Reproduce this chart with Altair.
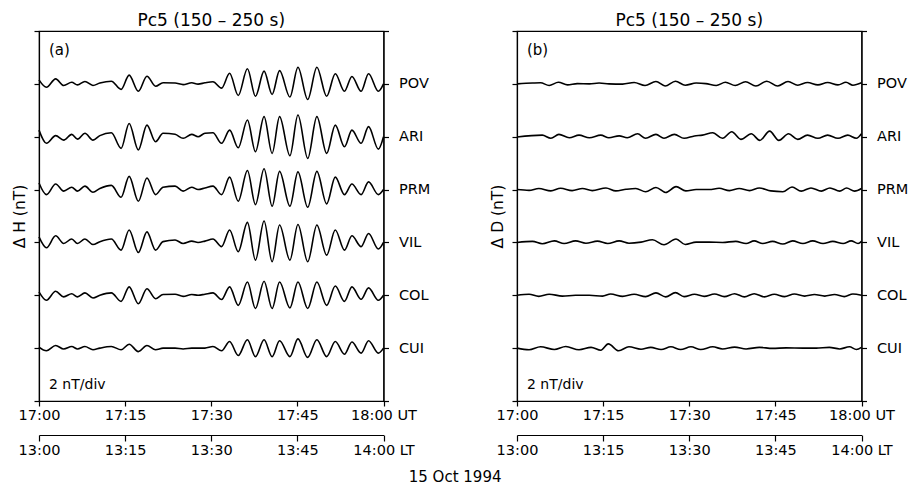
import altair as alt
import pandas as pd

STATIONS = ["POV", "ARI", "PRM", "VIL", "COL", "CUI"]
OFFSETS = [6, 5, 4, 3, 2, 1]
NT_PER_DIV = 2
Y_TICKS = [0, 1, 2, 3, 4, 5, 6, 7]
UT_TICKS = [0, 15, 30, 45, 60]
UT_LABELS = ["17:00", "17:15", "17:30", "17:45", "18:00 UT"]
LT_LABELS = ["13:00", "13:15", "13:30", "13:45", "14:00 LT"]

# ---- panel (a): Delta H, extrema times (minutes after 17:00 UT), values in nT
T_A = [0, 1.3, 2.9, 4.3, 5.7, 6.7, 8.0, 9.4, 10.6, 12.6, 14.3, 15.7, 17.3, 18.8, 20.3, 21.6,
       23.7, 25.1, 26.6, 27.7, 28.9, 30.3, 31.8, 33.2, 34.7, 36.3, 37.7, 39.2, 40.6, 41.9,
       43.7, 45.1, 46.8, 48.4, 50.1, 51.6, 53.2, 54.5, 56.1, 57.4, 59.1, 60]
H_POV = [0.15, -0.13, 0.19, -0.06, 0.06, -0.04, 0.09, -0.06, 0.03, 0.10, -0.21, 0.33, -0.28, 0.29,
         -0.09, 0.04, 0.03, -0.03, 0.04, -0.01, 0.04, 0.08, -0.16, 0.40, -0.44, 0.57, -0.47, 0.48,
         -0.40, 0.50, -0.50, 0.63, -0.59, 0.63, -0.47, 0.38, -0.28, 0.28, -0.28, 0.38, -0.28, 0.0]
H_ARI = [0.25, -0.25, 0.04, -0.13, 0.09, -0.09, 0.13, -0.13, 0.04, 0.15, -0.44, 0.50, -0.50, 0.44,
         -0.19, 0.13, 0.09, -0.06, 0.09, 0.0, 0.13, 0.15, -0.25, 0.25, -0.42, 0.63, -0.57, 0.76,
         -0.63, 0.76, -0.72, 0.82, -0.82, 0.76, -0.63, 0.44, -0.38, 0.25, -0.25, 0.38, -0.47, 0.0]
H_PRM = [0.25, -0.19, 0.21, -0.06, 0.09, -0.06, 0.13, -0.10, 0.04, 0.16, -0.29, 0.50, -0.44, 0.44,
         -0.19, 0.09, 0.13, -0.06, 0.09, 0.0, 0.06, 0.13, -0.19, 0.47, -0.44, 0.72, -0.57, 0.79,
         -0.63, 0.69, -0.63, 0.67, -0.67, 0.69, -0.54, 0.47, -0.19, 0.21, -0.19, 0.29, -0.19, 0.0]
H_VIL = [0.21, -0.20, 0.25, -0.04, 0.13, -0.04, 0.13, -0.08, 0.03, 0.13, -0.29, 0.47, -0.38, 0.40,
         -0.29, 0.03, 0.09, -0.04, 0.05, 0.0, 0.05, 0.13, -0.16, 0.47, -0.35, 0.76, -0.67, 0.81,
         -0.73, 0.66, -0.67, 0.68, -0.73, 0.66, -0.48, 0.47, -0.29, 0.25, -0.16, 0.34, -0.25, 0.0]
H_COL = [0.13, -0.19, 0.15, -0.06, 0.06, -0.06, 0.09, -0.10, 0.0, 0.09, -0.23, 0.32, -0.32, 0.25,
         -0.13, 0.03, 0.04, -0.04, 0.03, 0.0, 0.04, 0.09, -0.16, 0.32, -0.38, 0.50, -0.50, 0.53,
         -0.50, 0.50, -0.48, 0.50, -0.50, 0.50, -0.38, 0.35, -0.23, 0.32, -0.15, 0.28, -0.19, 0.0]
H_CUI = [0.04, -0.10, 0.10, -0.03, 0.06, -0.03, 0.06, -0.06, 0.0, 0.06, -0.06, 0.15, -0.13, 0.10,
         -0.06, 0.0, 0.0, -0.03, 0.0, 0.0, 0.0, 0.06, -0.10, 0.25, -0.28, 0.32, -0.32, 0.32,
         -0.32, 0.28, -0.32, 0.35, -0.35, 0.32, -0.32, 0.25, -0.23, 0.23, -0.19, 0.28, -0.19, 0.0]

# ---- panel (b): Delta D, extrema times and values (nT) per station
D_POV_T = [0, 2.7, 4.1, 5.6, 7.2, 8.8, 10.5, 12.6, 14.3, 16.0, 18.4, 20.4, 22.3, 24.2, 25.8, 27.6,
           29.3, 31.2, 32.9, 34.7, 36.3, 38.0, 39.8, 41.6, 43.5, 45.4, 47.2, 48.9, 50.6, 52.4,
           54.1, 55.9, 57.3, 58.5, 60]
D_POV = [0, 0.03, 0.04, -0.06, 0.06, -0.04, 0.01, 0, 0.03, 0, -0.01, 0.05, -0.06, 0.09, -0.08,
         0.10, -0.05, 0.03, 0.01, -0.06, 0.06, -0.06, 0.08, -0.08, 0.10, -0.08, 0.09, -0.05, 0.05,
         -0.04, 0.05, -0.04, 0.06, -0.05, 0.04]
D_ARI_T = [0, 4.4, 5.9, 7.3, 9.1, 10.8, 12.6, 14.6, 16.0, 17.8, 19.2, 21.0, 22.4, 24.2, 25.6,
           27.4, 29.1, 30.9, 32.3, 34.1, 35.8, 37.4, 39.0, 40.8, 42.3, 44.0, 45.6, 47.3, 48.9,
           50.6, 52.4, 54.1, 55.9, 57.6, 59.1, 60]
D_ARI = [-0.01, 0.06, -0.06, 0.09, -0.04, 0.06, -0.04, 0.06, -0.04, 0.03, -0.04, 0.11, -0.06,
         0.09, -0.06, 0.09, -0.06, 0.03, 0.06, 0.15, -0.06, 0.19, -0.10, 0.11, -0.14, 0.21, -0.14,
         0.11, -0.10, 0.06, -0.06, 0.06, -0.06, 0.06, -0.06, 0.11]
D_PRM_T = [0, 2.1, 3.8, 5.9, 7.6, 9.6, 11.4, 13.1, 15.5, 17.2, 19.0, 20.7, 22.4, 24.2, 25.9,
           27.7, 29.4, 31.2, 33.5, 35.2, 37.0, 38.7, 40.5, 42.2, 44.2, 46.3, 47.9, 49.5, 51.2,
           53.0, 54.5, 56.2, 57.4, 58.8, 60]
D_PRM = [0, -0.03, 0.04, -0.05, 0.05, -0.04, 0.04, -0.04, 0.06, -0.05, 0.01, 0.04, -0.08, 0.08,
         -0.11, 0.11, -0.05, 0, 0, 0.05, -0.04, 0.04, -0.04, 0.06, -0.05, -0.08, 0.10, -0.06,
         0.06, -0.06, 0.06, -0.06, 0.06, -0.06, 0.04]
D_VIL_T = [0, 2.7, 4.4, 6.5, 8.2, 10.2, 12.0, 14.0, 15.8, 17.8, 19.5, 21.6, 23.6, 25.6, 27.7,
           29.3, 31.2, 33.5, 35.8, 38.1, 39.9, 41.3, 42.8, 44.5, 46.3, 48.0, 49.8, 51.5, 53.3,
           55.0, 56.8, 58.2, 59.4, 60]
D_VIL = [0, 0.04, -0.05, 0.06, -0.04, 0.06, -0.03, 0.05, -0.04, 0.06, -0.03, 0.01, 0.10, -0.09,
         0.13, -0.08, 0.01, 0.01, 0, 0.04, -0.04, 0.06, -0.04, 0.04, -0.06, 0.06, -0.04, 0.06,
         -0.04, 0.04, -0.04, 0.06, -0.04, 0.04]
D_COL_T = [0, 2.1, 3.8, 5.6, 7.9, 10.2, 12.6, 14.9, 16.3, 18.4, 20.4, 22.4, 24.2, 25.9, 27.6,
           29.1, 30.9, 32.6, 34.4, 36.1, 37.9, 39.6, 41.3, 43.1, 44.8, 46.6, 48.3, 50.1, 51.8,
           53.6, 55.3, 57.0, 58.5, 60]
D_COL = [0, 0.04, -0.04, 0.04, -0.03, 0, 0, -0.03, 0.05, -0.04, 0.04, -0.05, 0.09, -0.06, 0.10,
         -0.05, 0.04, -0.04, 0.05, -0.05, 0.06, -0.06, 0.06, -0.06, 0.04, -0.05, 0.05, -0.03,
         0.03, -0.03, 0.03, -0.05, 0.05, 0]
D_CUI_T = [0, 2.1, 4.1, 6.5, 8.5, 10.8, 12.9, 14.6, 15.9, 17.7, 19.5, 21.6, 23.3, 25.1, 26.8,
           28.5, 30.3, 32.0, 34.1, 35.8, 37.9, 39.9, 42.2, 44.5, 46.9, 49.8, 52.1, 54.4, 56.2,
           57.9, 59.1, 60]
D_CUI = [0, -0.06, 0.05, -0.05, 0.06, -0.06, 0.03, -0.08, 0.16, -0.10, 0.05, -0.04, 0.03, -0.05,
         0.05, -0.05, 0.05, -0.05, 0.05, -0.03, 0.04, -0.03, 0.03, -0.01, 0.01, 0, 0, 0.03, -0.03,
         0.05, -0.05, 0.03]

FONT = "DejaVu Sans"


def build(times_list, values_list):
    rows = []
    for s, o, ts, vs in zip(STATIONS, OFFSETS, times_list, values_list):
        for t, v in zip(ts, vs):
            rows.append({"station": s, "offset": o, "t": t, "v": v})
    return pd.DataFrame(rows)


df_a = build([T_A] * 6, [H_POV, H_ARI, H_PRM, H_VIL, H_COL, H_CUI])
df_b = build([D_POV_T, D_ARI_T, D_PRM_T, D_VIL_T, D_COL_T, D_CUI_T],
             [D_POV, D_ARI, D_PRM, D_VIL, D_COL, D_CUI])


def expr_from(values, labels):
    parts = [f"datum.value == {v} ? '{l}'" for v, l in zip(values, labels)]
    return " : ".join(parts) + " : ''"


ut_expr = expr_from(UT_TICKS, UT_LABELS)
lt_expr = expr_from(UT_TICKS, LT_LABELS)
st_expr = expr_from(OFFSETS, STATIONS)


def panel(df, ytitle, tag, title):
    xs = alt.Scale(domain=[0, 60], nice=False, zero=False)
    ys = alt.Scale(domain=[0, 7], nice=False, zero=False)
    base = alt.Chart(df).transform_calculate(yy=f"datum.offset + datum.v / {NT_PER_DIV}")
    lines = base.mark_line(color="black", strokeWidth=1.6, interpolate="monotone").encode(
        x=alt.X("t:Q", scale=xs,
                axis=alt.Axis(orient="bottom", values=UT_TICKS, labelExpr=ut_expr, title=None,
                              grid=False, tickSize=5, labelPadding=2, labelFlush=False,
                              labelOverlap=False)),
        y=alt.Y("yy:Q", scale=ys,
                axis=alt.Axis(orient="left", values=Y_TICKS, labels=False, title=ytitle,
                              grid=False, tickSize=5, titlePadding=6)),
        detail="station:N",
    )
    ghost = base.mark_point(opacity=0).encode(
        x=alt.X("t:Q", scale=xs,
                axis=alt.Axis(orient="bottom", offset=34, values=UT_TICKS, labelExpr=lt_expr,
                              title=None, grid=False, tickSize=6, labelPadding=2,
                              labelFlush=False, labelOverlap=False)),
        y=alt.Y("yy:Q", scale=ys,
                axis=alt.Axis(orient="right", values=Y_TICKS, labelExpr=st_expr, title=None,
                              grid=False, tickSize=5, labelPadding=10)),
    )
    tag_txt = alt.Chart(pd.DataFrame({"s": [tag]})).mark_text(
        align="left", baseline="middle", fontSize=15, font=FONT, color="black"
    ).encode(text="s:N", x=alt.value(10), y=alt.value(19))
    div_txt = alt.Chart(pd.DataFrame({"s": [f"{NT_PER_DIV} nT/div"]})).mark_text(
        align="left", baseline="middle", fontSize=14, font=FONT, color="black"
    ).encode(text="s:N", x=alt.value(10), y=alt.value(354))
    return alt.layer(lines, ghost, tag_txt, div_txt).resolve_axis(
        x="independent", y="independent"
    ).properties(
        width=344.5, height=370,
        title=alt.TitleParams(title, fontSize=17, font=FONT, fontWeight="normal",
                              anchor="middle", color="black", offset=0),
    )


pa = panel(df_a, "Δ H (nT)", "(a)", "Pc5 (150 – 250 s)")
pb = panel(df_b, "Δ D (nT)", "(b)", "Pc5 (150 – 250 s)")

chart = alt.hconcat(pa, pb, spacing=58).properties(
    title=alt.TitleParams("15 Oct 1994", orient="bottom", anchor="middle", fontSize=15,
                          font=FONT, fontWeight="normal", color="black", offset=13, dx=-5),
    padding={"left": 3, "top": 3, "right": 0, "bottom": 0},
).configure_view(stroke="black", strokeWidth=1.2).configure_axis(
    domainColor="black", tickColor="black", labelColor="black", titleColor="black",
    labelFont=FONT, titleFont=FONT, labelFontSize=14.5, titleFontSize=15.5,
    titleFontWeight="normal", domainWidth=1.2, tickWidth=1.2,
)

chart.save("out.html", embed_options={"renderer": "svg", "actions": False})
